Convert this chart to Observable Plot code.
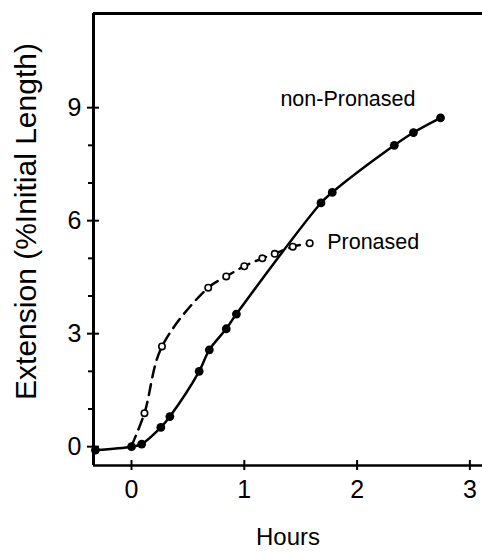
<!DOCTYPE html>
<html><head><meta charset="utf-8">
<script src="https://cdn.jsdelivr.net/npm/d3@7"></script>
<script src="https://cdn.jsdelivr.net/npm/@observablehq/plot@0.6"></script>
<style>html,body{margin:0;padding:0;background:#fff} svg{display:block}</style>
</head><body><div id="chart"></div>
<script>
// non-Pronased (filled circles, solid line)
const nonHours = [-0.32, 0, 0.09, 0.26, 0.34, 0.60, 0.69, 0.84, 0.93, 1.68, 1.78, 2.33, 2.50, 2.74];
const nonExt   = [-0.09, 0, 0.07, 0.51, 0.80, 2.00, 2.57, 3.13, 3.52, 6.47, 6.75, 8.00, 8.34, 8.73];
// Pronased (open circles, dashed line)
const proHours = [0, 0.115, 0.27, 0.68, 0.84, 1.00, 1.16, 1.27, 1.43, 1.58];
const proExt   = [0.02, 0.89, 2.66, 4.22, 4.52, 4.79, 5.00, 5.12, 5.31, 5.40];
// series labels
const seriesNames = ["non-Pronased", "Pronased"];
const labelHours = [1.32, 1.735];
const labelExt = [9.23, 5.42];
// ticks
const xTicks = [0, 1, 2, 3];
const yTicks = [0, 3, 6, 9];
const yMinor = [1, 2, 4, 5, 7, 8];
const xLabel = "Hours";
const yLabel = "Extension (%Initial Length)";

const xDomain = [-0.337, 3.112];
const yDomain = [-0.5, 11.5];

const non = nonHours.map((h, i) => ({h, e: nonExt[i]}));
const pro = proHours.map((h, i) => ({h, e: proExt[i]}));
const labels = seriesNames.map((t, i) => ({t, h: labelHours[i], e: labelExt[i]}));

const font = "Liberation Sans, Arial, sans-serif";

const chart = Plot.plot({
  width: 482,
  height: 552,
  marginTop: 13,
  marginRight: 0,
  marginBottom: 87,
  marginLeft: 93,
  style: {fontFamily: font, background: "#fff", color: "#000"},
  x: {domain: xDomain},
  y: {domain: yDomain},
  marks: [
    // frame lines
    Plot.ruleX([xDomain[0]], {y1: yDomain[0], y2: yDomain[1], stroke: "#000", strokeWidth: 3}),
    Plot.ruleY([yDomain[0]], {stroke: "#000", strokeWidth: 2.5}),
    Plot.ruleY([yDomain[1]], {stroke: "#000", strokeWidth: 3}),
    // axes
    Plot.axisY({ticks: yTicks, tickSize: 6, tickPadding: 6, fontSize: 25, tickFormat: "d", label: null, strokeWidth: 2}),
    Plot.axisY({ticks: yTicks, tickSize: -6, text: null, label: null, strokeWidth: 2}),
    Plot.axisY({ticks: yMinor, tickSize: 5, text: null, label: null, strokeWidth: 2}),
    Plot.axisX({ticks: xTicks, tickSize: 5, tickPadding: 10, fontSize: 25, tickFormat: "d", label: null, strokeWidth: 2}),
    Plot.axisX({ticks: xTicks, tickSize: -5, text: null, label: null, strokeWidth: 2}),
    // axis titles
    Plot.text([yLabel], {frameAnchor: "left", textAnchor: "middle", lineAnchor: "middle", dx: -67, dy: -18, rotate: -90, fontSize: 30, fill: "#000"}),
    Plot.text([xLabel], {frameAnchor: "bottom", textAnchor: "middle", dy: 79, fontSize: 24, fill: "#000"}),
    // Pronased
    Plot.line(pro, {x: "h", y: "e", curve: "catmull-rom", stroke: "#000", strokeWidth: 2.5, strokeDasharray: "11,7"}),
    Plot.dot(pro.slice(1), {x: "h", y: "e", r: 3.2, fill: "#fff", stroke: "#000", strokeWidth: 1.6}),
    // non-Pronased
    Plot.line(non, {x: "h", y: "e", curve: "catmull-rom", stroke: "#000", strokeWidth: 2.5}),
    Plot.dot(non, {x: "h", y: "e", r: 4.4, fill: "#000"}),
    // series labels
    Plot.text(labels, {x: "h", y: "e", text: "t", textAnchor: "start", fontSize: 21.5, fill: "#000"})
  ]
});
document.getElementById("chart").appendChild(chart);
</script>
</body></html>
